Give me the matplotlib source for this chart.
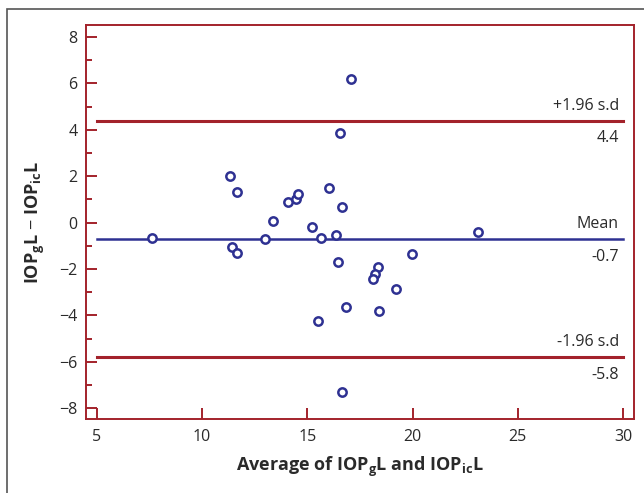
import matplotlib
matplotlib.use("Agg")
import matplotlib.pyplot as plt
from matplotlib.patches import Rectangle
from matplotlib.ticker import MultipleLocator

# Bland-Altman data
avg = [7.60, 11.31, 11.64, 11.42, 11.67, 12.97, 13.35, 14.06, 14.47, 14.57,
       16.01, 16.66, 15.20, 15.63, 16.38, 16.45, 17.09, 16.56, 19.96, 18.34,
       18.20, 18.10, 19.21, 16.82, 18.38, 15.52, 16.64, 23.09]
diff = [-0.67, 2.01, 1.32, -1.07, -1.33, -0.71, 0.08, 0.87, 1.03, 1.23,
        1.50, 0.68, -0.21, -0.68, -0.52, -1.70, 6.20, 3.86, -1.34, -1.92,
        -2.21, -2.42, -2.85, -3.64, -3.80, -4.25, -7.31, -0.42]
mean_diff = -0.7
upper = 4.4
lower = -5.8
line_labels = ["+1.96 s.d", "Mean", "-1.96 s.d"]
line_values = [upper, mean_diff, lower]
xticks = [5, 10, 15, 20, 25, 30]
yticks = [-8, -6, -4, -2, 0, 2, 4, 6, 8]

plt.rcParams['font.family'] = ['Open Sans', 'DejaVu Sans']
plt.rcParams['mathtext.fontset'] = 'custom'
plt.rcParams['mathtext.rm'] = 'Open Sans'
plt.rcParams['mathtext.bf'] = 'Open Sans:bold'

navy = '#2e3192'
red = '#a3222b'
grey = '#2a2a2a'

fig = plt.figure(figsize=(6.44, 4.93), dpi=100)
fig.patches.append(Rectangle((7 / 644, -0.05), 1.1, 484 / 493 + 0.05,
                             transform=fig.transFigure, fill=False,
                             edgecolor='#555555', linewidth=1.2))
ax = fig.add_axes([86 / 644, 74 / 493, 548 / 644, 394 / 493])

ax.plot(xticks[0:1] + xticks[-1:], [upper, upper], color=red, lw=2.2)
ax.plot(xticks[0:1] + xticks[-1:], [lower, lower], color=red, lw=2.2)
ax.plot(xticks[0:1] + xticks[-1:], [mean_diff, mean_diff], color=navy, lw=1.8)
ax.scatter(avg, diff, s=36, facecolors='white', edgecolors=navy,
           linewidths=1.8, zorder=3)

for lab, v in zip(line_labels, line_values):
    ax.text(29.8, v + 0.3, lab, ha='right', va='bottom', fontsize=11.5, color=grey)
    ax.text(29.8, v - 0.42, "%.1f" % v, ha='right', va='top', fontsize=11.5, color=grey)

ax.set_xlim(4.48, 30.52)
ax.set_ylim(-8.47, 8.52)
ax.set_xticks(xticks)
ax.set_yticks(yticks)
ax.yaxis.set_minor_locator(MultipleLocator(1))
ax.tick_params(axis='both', which='major', direction='in', length=8,
               width=1.4, color=red, labelcolor=grey, labelsize=11.5)
ax.tick_params(axis='y', which='minor', direction='in', length=4.5,
               width=1.4, color=red)
ax.tick_params(axis='x', pad=7)
ax.tick_params(axis='y', pad=6)
for sp in ax.spines.values():
    sp.set_color(red)
    sp.set_linewidth(1.4)

ax.set_xlabel(r'Average of IOP$_\mathbf{g}$L and IOP$_\mathbf{ic}$L',
              fontsize=13, fontweight='bold', color=grey, labelpad=7)
ax.set_ylabel(r'IOP$_\mathbf{g}$L $-$ IOP$_\mathbf{ic}$L',
              fontsize=13, fontweight='bold', color=grey, labelpad=9)

fig.savefig("out.png", dpi=100)
